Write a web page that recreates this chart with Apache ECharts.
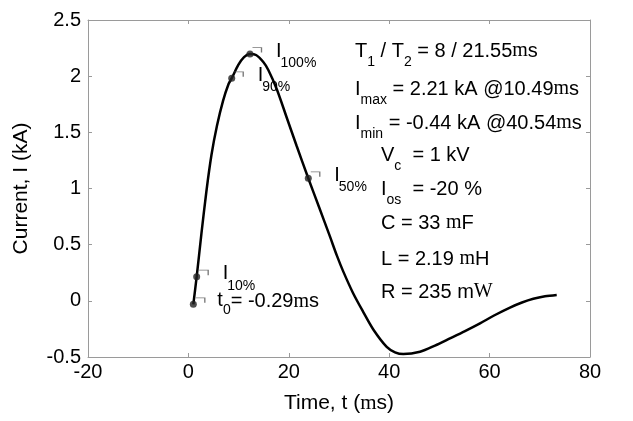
<!DOCTYPE html>
<html><head><meta charset="utf-8">
<script src="https://cdn.jsdelivr.net/npm/echarts@6/dist/echarts.min.js"></script>
<style>html,body{margin:0;padding:0;background:#fff}#c{width:633px;height:421px}</style>
</head><body><div id="c"></div>
<script>
// ---- data ----
const timeMs = [0.98,1.65,2.6,3.6,4.6,5.7,6.9,8.0,8.63,9.94,11.08,12.27,13.47,14.92,15.92,17.59,19.58,21.57,23.88,26.02,28.21,29.60,30.86,32.79,34.84,36.83,39.50,41.16,42.81,46.14,49.12,52.11,55.10,58.09,61.08,64.06,66.45,68.71,71.04,73.37];
const currentKA = [-0.031,0.215,0.60,0.98,1.30,1.56,1.78,1.93,1.981,2.10,2.17,2.197,2.188,2.126,2.055,1.886,1.632,1.378,1.091,0.835,0.571,0.400,0.260,0.070,-0.100,-0.255,-0.410,-0.458,-0.474,-0.453,-0.398,-0.334,-0.269,-0.200,-0.126,-0.060,-0.015,0.018,0.040,0.052];
const markerNames = ['t0','I10%','I90%','I100%','I50%'];
const markerTime = [0.98,1.65,8.63,12.27,23.88];
const markerCurrent = [-0.031,0.215,1.981,2.197,1.091];
const xMin = -20, xMax = 80, xStep = 20;
const yMin = -0.5, yMax = 2.5, yStep = 0.5;
const xTitle = 'Time, t (';
const yTitle = 'Current, I (kA)';
// point labels: main letter, subscript, trailing text
const pointLabelMain = ['t','I','I','I','I'];
const pointLabelSub = ['0','10%','90%','100%','50%'];
const pointLabelTail = ['= -0.29','','','',''];
// info block lines (segments: text, sub flag, serif flag)
const infoLines = [
  [['T'],['1',1],[' / T'],['2',1],[' = 8 / 21.55'],['m',0,1],['s']],
  [['I'],['max',1],[' = 2.21 kA @10.49'],['m',0,1],['s']],
  [['I'],['min',1],[' = -0.44 kA @40.54'],['m',0,1],['s']],
  [['V'],['c',1],['  = 1 kV']],
  [['I'],['os',1],['  = -20 %']],
  [['C = 33 '],['m',0,1],['F']],
  [['L = 2.19 '],['m',0,1],['H']],
  [['R = 235 m'],['W',0,1]]
];

const SANS = '"Liberation Sans", Arial, sans-serif';
const SERIF = '"Liberation Serif", "Times New Roman", serif';
const chart = echarts.init(document.getElementById('c'), null, {renderer:'canvas'});
const mctx = document.createElement('canvas').getContext('2d');
function tw(t, size, serif){ mctx.font = size + 'px ' + (serif?SERIF:SANS); return mctx.measureText(t).width; }

const pts = markerTime.map((t,i)=>[t, markerCurrent[i]]);
const axisCol = '#9a9a9a';
function xAx(pos, show){ return {type:'value', position:pos, min:xMin, max:xMax, interval:xStep,
  axisLine:{show:true, onZero:false, lineStyle:{color:axisCol, width:1}},
  axisTick:{show:true, inside:true, length:4, lineStyle:{color:axisCol}},
  splitLine:{show:false},
  axisLabel:{show:show, color:'#000', fontSize:20, fontFamily:SANS, margin:5},
  name: show ? xTitle + '{s|m}s)' : '', nameLocation:'middle', nameGap:36,
  nameTextStyle:{fontSize:21, fontFamily:SANS, color:'#000', rich:{s:{fontSize:21, fontFamily:SERIF, color:'#000'}}}
};}
function yAx(pos, show){ return {type:'value', position:pos, min:yMin, max:yMax, interval:yStep,
  axisLine:{show:true, onZero:false, lineStyle:{color:axisCol, width:1}},
  axisTick:{show:true, inside:true, length:4, lineStyle:{color:axisCol}},
  splitLine:{show:false},
  axisLabel:{show:show, color:'#000', fontSize:20, fontFamily:SANS, margin:7},
  name: show ? yTitle : '', nameLocation:'middle', nameGap:56, nameRotate:90,
  nameTextStyle:{fontSize:21, fontFamily:SANS, color:'#000'}
};}

chart.setOption({
  animation:false,
  backgroundColor:'#fff',
  grid:{left:88, right:43, top:20, bottom:64},
  xAxis:[xAx('bottom', true), xAx('top', false)],
  yAxis:[yAx('left', true), yAx('right', false)],
  series:[
    {type:'line', data: timeMs.map((t,i)=>[t, currentKA[i]]), showSymbol:false, smooth:0.3,
     lineStyle:{color:'#000', width:2.5}, z:3},
    {type:'scatter', data: pts, symbol:'path://M0,0L10,0L10,5', symbolSize:[9,5], symbolOffset:[7,-4],
     itemStyle:{color:'none', borderColor:'#555', borderWidth:1}, z:4},
    {type:'scatter', data: pts, symbol:'circle', symbolSize:7,
     itemStyle:{color:'#222'}, z:5}
  ]
});

// text annotations
const g = [];
function pushSegs(x, y, segs, size, subSize){
  let cx = x;
  segs.forEach(s=>{
    const sub = s[1]===1, serif = s[2]===1;
    const fs = sub ? subSize : size;
    g.push({type:'text', x:cx, y: sub ? y+11 : y, silent:true,
      style:{text:s[0], font: fs+'px '+(serif?SERIF:SANS), fill:'#000', align:'left', verticalAlign:'middle'}});
    cx += tw(s[0], fs, serif);
  });
}
const infoX = [355,355,355,381,381,381,381,381];
const infoY = [51,89,123,155,189,223,259,292];
infoLines.forEach((segs,i)=>pushSegs(infoX[i], infoY[i], segs, 20, 14));

// point labels anchored to data points
pts.forEach((p,i)=>{
  const px = chart.convertToPixel({xAxisIndex:0, yAxisIndex:0}, p);
  const isT = pointLabelMain[i]==='t';
  const bx = px[0] + (isT ? 24 : 26), by = px[1] + (isT ? -4 : -3);
  g.push({type:'text', x:bx, y:by, silent:true, style:{text:pointLabelMain[i], font:'20px '+SANS, fill:'#000', align:'left', verticalAlign:'middle'}});
  const sx = bx + tw(pointLabelMain[i], 20) - (isT?0:1);
  g.push({type:'text', x:sx, y:by + (isT?10:12), silent:true, style:{text:pointLabelSub[i], font:'14px '+SANS, fill:'#000', align:'left', verticalAlign:'middle'}});
  if (pointLabelTail[i]) {
    const tx = sx + tw(pointLabelSub[i], 14);
    pushSegs(tx, by+1, [[pointLabelTail[i]],['m',0,1],['s']], 20, 14);
  }
});
chart.setOption({graphic: g});
</script>
</body></html>
